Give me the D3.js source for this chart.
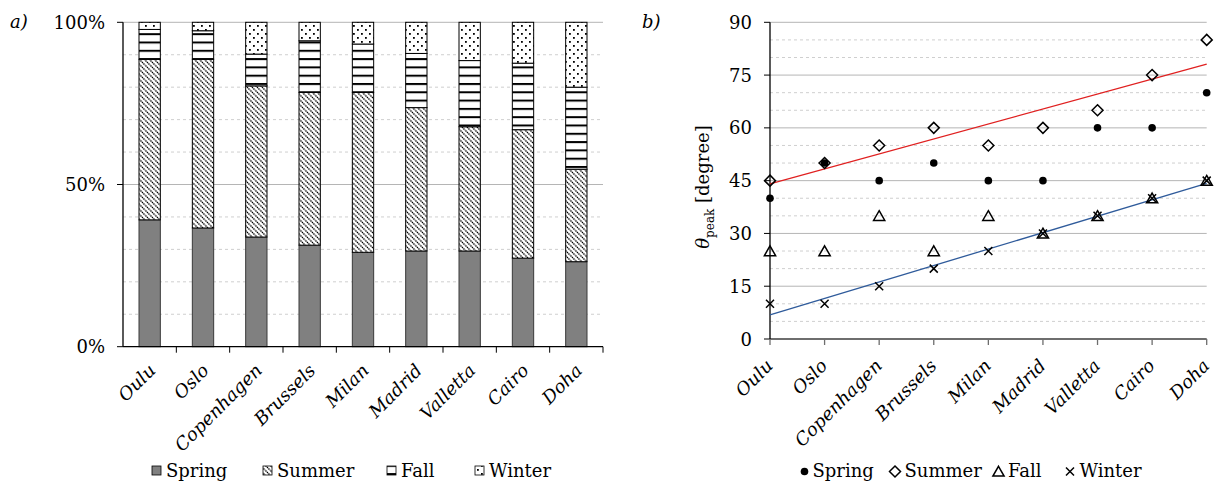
<!DOCTYPE html>
<html><head><meta charset="utf-8">
<script src="https://cdn.jsdelivr.net/npm/d3@7"></script>
</head>
<body style="margin:0"><svg id="c" width="1216" height="482"></svg>
<script>
const cities = ["Oulu","Oslo","Copenhagen","Brussels","Milan","Madrid","Valletta","Cairo","Doha"];
const seasons = ["Spring","Summer","Fall","Winter"];
// panel a: share (%) of each season
const shareSpring = [39.1,36.6,33.8,31.3,29.1,29.5,29.5,27.3,26.2];
const shareSummer = [49.5,52.0,46.6,47.1,49.3,44.2,38.3,39.6,28.5];
const shareFall   = [9.2,8.8,9.8,15.9,14.9,16.7,20.4,20.5,25.3];
const shareWinter = [2.2,2.6,9.8,5.7,6.7,9.6,11.8,12.6,20.0];
const pctTicks = [0,50,100];
// panel b: theta_peak (degree)
const peakSpring = [40,50,45,50,45,45,60,60,70];
const peakSummer = [45,50,55,60,55,60,65,75,85];
const peakFall   = [25,25,35,25,35,30,35,40,45];
const peakWinter = [10,10,15,20,25,30,35,40,45];
const degTicks = [0,15,30,45,60,75,90];

const FONT = "DejaVu Serif";
const FS = 18;
const svg = d3.select("#c");
const defs = svg.append("defs");
// patterns
const pSum = defs.append("pattern").attr("id","pSum").attr("patternUnits","userSpaceOnUse").attr("width",5).attr("height",5);
pSum.append("rect").attr("width",5).attr("height",5).attr("fill","#fff");
pSum.append("path").attr("d","M-1,-1L6,6M-1,4L1,6M4,-1L6,1").attr("stroke","#000").attr("stroke-width",1.3).attr("stroke-dasharray","1.4,0.7");
const pFall = defs.append("pattern").attr("id","pFall").attr("patternUnits","userSpaceOnUse").attr("width",8).attr("height",8.3);
pFall.append("rect").attr("width",8).attr("height",8.3).attr("fill","#fff");
pFall.append("rect").attr("y",0).attr("width",8).attr("height",2).attr("fill","#000");
const pWin = defs.append("pattern").attr("id","pWin").attr("patternUnits","userSpaceOnUse").attr("width",8).attr("height",8);
pWin.append("rect").attr("width",8).attr("height",8).attr("fill","#fff");
pWin.append("rect").attr("x",1).attr("y",1).attr("width",1.8).attr("height",1.8).attr("fill","#000");
pWin.append("rect").attr("x",5).attr("y",5).attr("width",1.8).attr("height",1.8).attr("fill","#000");
const fills = {Spring:"#808080",Summer:"url(#pSum)",Fall:"url(#pFall)",Winter:"url(#pWin)"};

function styl(sel){ return sel.attr("font-family",FONT).attr("font-size",FS); }
function txt(g){ return styl(g.append("text")); }

// ---------- Panel a ----------
const A = {l:123,r:603,t:22.3,b:346.7};
const xA = d3.scaleBand().domain(cities).range([A.l,A.r]).paddingInner(0.6).paddingOuter(0.3);
const yA = d3.scaleLinear().domain([0,100]).range([A.b,A.t]);
const gA = svg.append("g");
gA.selectAll(".gm").data(d3.range(10,100,10).filter(v=>v!==50)).join("line")
  .attr("x1",A.l).attr("x2",A.r).attr("y1",d=>yA(d)).attr("y2",d=>yA(d))
  .attr("stroke","#cfcfcf").attr("stroke-dasharray","3,3");
gA.selectAll(".gM").data([50,100]).join("line")
  .attr("x1",A.l).attr("x2",A.r).attr("y1",d=>yA(d)).attr("y2",d=>yA(d))
  .attr("stroke","#b5b5b5");
const rows = cities.map((c,i)=>({city:c,Spring:shareSpring[i],Summer:shareSummer[i],Fall:shareFall[i],Winter:shareWinter[i]}));
const stack = d3.stack().keys(seasons)(rows);
stack.forEach(layer=>{
  gA.selectAll(null).data(layer).join("rect")
    .attr("x",d=>xA(d.data.city)).attr("width",xA.bandwidth())
    .attr("y",d=>yA(Math.min(100,d[1]))).attr("height",d=>yA(d[0])-yA(Math.min(100,d[1])))
    .attr("fill",fills[layer.key]).attr("stroke",layer.key==="Spring"?"#3a3a3a":"#000").attr("stroke-width",1);
});
// axes
gA.append("line").attr("x1",A.l).attr("x2",A.l).attr("y1",A.t).attr("y2",A.b).attr("stroke","#000").attr("stroke-width",1.3);
gA.append("line").attr("x1",A.l).attr("x2",A.r).attr("y1",A.b).attr("y2",A.b).attr("stroke","#000").attr("stroke-width",1.3);
gA.selectAll(".yt").data(pctTicks).join("line").attr("x1",A.l-6).attr("x2",A.l).attr("y1",d=>yA(d)).attr("y2",d=>yA(d)).attr("stroke","#000");
styl(gA.selectAll(".ytl").data(pctTicks).join("text")).attr("x",105).attr("y",d=>yA(d)+6.5)
  .attr("text-anchor","end").text(d=>d+"%");
gA.selectAll(".xt").data(d3.range(1,10)).join("line")
  .attr("x1",d=>A.l+xA.step()*d).attr("x2",d=>A.l+xA.step()*d).attr("y1",A.b).attr("y2",A.b+6).attr("stroke","#000");
styl(gA.selectAll(".xl").data(cities).join("text"))
  .attr("transform",d=>`translate(${xA(d)+xA.bandwidth()/2-2},${A.b+16}) rotate(-45)`)
  .attr("text-anchor","end").attr("dy","0.7em").attr("font-style","italic").text(d=>d);
txt(svg).attr("x",10).attr("y",28).attr("font-style","italic").text("a)");
// legend a
const legA = [{k:"Spring",x:152},{k:"Summer",x:263},{k:"Fall",x:387},{k:"Winter",x:475}];
legA.forEach(o=>{
  svg.append("rect").attr("x",o.x).attr("y",466).attr("width",9).attr("height",9).attr("fill",fills[o.k]).attr("stroke","#000").attr("stroke-width",0.8);
  txt(svg).attr("x",o.x+14).attr("y",476.5).text(o.k);
});

// ---------- Panel b ----------
const B = {l:770,r:1206.7,t:22.3,b:339};
const xB = d3.scalePoint().domain(cities).range([B.l,B.r]);
const yB = d3.scaleLinear().domain([0,90]).range([B.b,B.t]);
const gB = svg.append("g");
gB.selectAll(".gm").data(d3.range(5,90,5).filter(v=>v%15!==0)).join("line")
  .attr("x1",B.l).attr("x2",B.r).attr("y1",d=>yB(d)).attr("y2",d=>yB(d))
  .attr("stroke","#cfcfcf").attr("stroke-dasharray","3,3");
gB.selectAll(".gM").data(degTicks.slice(1)).join("line")
  .attr("x1",B.l).attr("x2",B.r).attr("y1",d=>yB(d)).attr("y2",d=>yB(d))
  .attr("stroke","#b5b5b5");
gB.append("line").attr("x1",B.l).attr("x2",B.r).attr("y1",B.b).attr("y2",B.b).attr("stroke","#6e6e6e").attr("stroke-width",2);
gB.append("line").attr("x1",B.l).attr("x2",B.l).attr("y1",B.t).attr("y2",B.b).attr("stroke","#000").attr("stroke-width",1.3);
gB.selectAll(".yt").data(degTicks).join("line").attr("x1",B.l-6).attr("x2",B.l).attr("y1",d=>yB(d)).attr("y2",d=>yB(d)).attr("stroke","#000");
styl(gB.selectAll(".ytl").data(degTicks).join("text")).attr("x",752).attr("y",d=>yB(d)+6.5)
  .attr("text-anchor","end").text(d=>d);
gB.selectAll(".xt").data(cities).join("line")
  .attr("x1",d=>xB(d)).attr("x2",d=>xB(d)).attr("y1",B.b).attr("y2",B.b+6).attr("stroke","#6e6e6e").attr("stroke-width",1.3);
styl(gB.selectAll(".xl").data(cities).join("text"))
  .attr("transform",d=>`translate(${xB(d)-5},${B.b+19}) rotate(-45)`)
  .attr("text-anchor","end").attr("dy","0.7em").attr("font-style","italic").text(d=>d);
txt(svg).attr("x",642).attr("y",28).attr("font-style","italic").text("b)");
const yt = txt(svg).attr("transform","translate(709,187) rotate(-90)").attr("text-anchor","middle");
yt.append("tspan").attr("font-style","italic").text("θ");
yt.append("tspan").attr("font-size",12).attr("dy",5).text("peak");
yt.append("tspan").attr("dy",-5).text(" [degree]");

// trend lines (least squares of the plotted series)
function trend(vals){
  const xs = vals.map((v,i)=>i+1);
  const mx = d3.mean(xs), my = d3.mean(vals);
  const s = d3.sum(xs,(x,i)=>(x-mx)*(vals[i]-my))/d3.sum(xs,x=>(x-mx)**2);
  return [my+s*(1-mx), my+s*(vals.length-mx)];
}
const tS = trend(peakSummer), tW = trend(peakWinter);
gB.append("line").attr("x1",B.l).attr("x2",B.r).attr("y1",yB(tS[0])).attr("y2",yB(tS[1])).attr("stroke","#e02020").attr("stroke-width",1.3);
gB.append("line").attr("x1",B.l).attr("x2",B.r).attr("y1",yB(tW[0])).attr("y2",yB(tW[1])).attr("stroke","#2f5b9b").attr("stroke-width",1.3);

const shp = {
  Summer:"M0,-5.5L5.5,0L0,5.5L-5.5,0Z",
  Fall:"M0,-5.2L5.6,4.6L-5.6,4.6Z",
  Winter:"M-4,-4L4,4M-4,4L4,-4"
};
function mark(g,key,x,y){
  if(key==="Spring") g.append("circle").attr("cx",x).attr("cy",y).attr("r",3.8).attr("fill","#000");
  else g.append("path").attr("transform",`translate(${x},${y})`).attr("d",shp[key]).attr("fill","none").attr("stroke","#000").attr("stroke-width",1.5);
}
const series = {Spring:peakSpring,Summer:peakSummer,Fall:peakFall,Winter:peakWinter};
["Summer","Spring","Fall","Winter"].forEach(k=>{
  series[k].forEach((v,i)=>mark(gB,k,xB(cities[i]),yB(v)));
});
// legend b
const legB = [{k:"Spring",x:804.5},{k:"Summer",x:895},{k:"Fall",x:998.5},{k:"Winter",x:1070}];
legB.forEach(o=>{
  mark(svg,o.k,o.x,471.5);
  txt(svg).attr("x",o.x+(o.k==="Spring"?8:9.5)).attr("y",476.5).text(o.k);
});
</script></body></html>
